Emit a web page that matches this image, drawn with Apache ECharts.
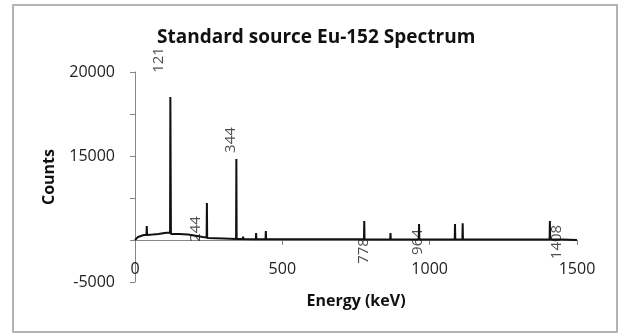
<!DOCTYPE html>
<html>
<head>
<meta charset="utf-8">
<script src="https://cdn.jsdelivr.net/npm/echarts@6/dist/echarts.min.js"></script>
<style>
html,body{margin:0;padding:0;background:#fff;}
#wrap{position:relative;width:619px;height:334px;}
#chart{width:619px;height:334px;}
#frame{position:absolute;left:12px;top:4px;width:602px;height:325px;border:2px solid #b4b4b4;pointer-events:none;}
</style>
</head>
<body>
<div id="wrap"><div id="chart"></div><div id="frame"></div></div>
<script>
// Spectrum (energy keV, counts)
var energies = [0, 10, 20, 30, 39, 40, 41, 45, 60, 80, 100, 119, 120, 121, 122, 123, 150, 180, 200, 230, 243, 244, 245, 250, 300, 343, 344, 345, 366, 367, 368, 400, 410, 411, 412, 443, 444, 445, 500, 562, 563, 564, 585, 586, 587, 650, 687, 688, 689, 750, 777, 778, 779, 800, 866, 867, 868, 900, 963, 964, 965, 1000, 1050, 1085, 1086, 1087, 1111, 1112, 1113, 1150, 1214, 1215, 1216, 1250, 1298, 1299, 1300, 1350, 1407, 1408, 1409, 1450, 1500];
var counts   = [0, 360, 480, 600, 600, 1670, 600, 480, 650, 710, 830, 890, 17020, 17020, 710, 710, 710, 650, 540, 360, 300, 4400, 240, 240, 180, 120, 9640, 120, 110, 400, 110, 100, 100, 830, 100, 100, 1070, 100, 90, 90, 260, 90, 90, 260, 90, 80, 80, 250, 80, 80, 80, 2260, 80, 70, 70, 830, 70, 70, 70, 1900, 70, 60, 60, 60, 1900, 60, 60, 2000, 60, 50, 50, 240, 50, 50, 50, 240, 50, 50, 50, 2260, 50, 50, 0];

// Peak labels
var peakLabelText = ['121', '244', '344', '778', '964', '1408'];
var peakLabelEnergy = [81, 207, 326, 777, 960, 1432];
var peakLabelCounts = [21430, 1310, 11900, -1310, -240, -240];

// Axis ticks
var xTickValues = [0, 500, 1000, 1500];
var xTickLabels = ['0', '500', '1000', '1500'];
var yTickValues = [-5000, 0, 5000, 10000, 15000, 20000];
var yTickLabels = ['-5000', '', '', '15000', '', '20000'];

var spectrum = energies.map(function (e, i) { return [e, counts[i]]; });
var labelPts = peakLabelEnergy.map(function (e, i) { return { value: [e, peakLabelCounts[i]], name: peakLabelText[i] }; });

var font = '"Open Sans", "Liberation Sans", sans-serif';
var chart = echarts.init(document.getElementById('chart'), null, { renderer: 'canvas' });
chart.setOption({
  animation: false,
  backgroundColor: '#fff',
  title: {
    text: 'Standard source Eu-152 Spectrum',
    left: 152, top: 23,
    textStyle: { fontFamily: font, fontSize: 19, fontWeight: 'bold', color: '#111' }
  },
  grid: { left: 135, right: 42, top: 72, bottom: 52, outerBoundsMode: 'none', containLabel: false },
  xAxis: {
    type: 'value', min: 0, max: 1500, interval: 500,
    name: 'Energy (keV)', nameLocation: 'middle', nameGap: 11, nameMoveOverlap: false,
    nameTextStyle: { fontFamily: font, fontSize: 16, fontWeight: 'bold', color: '#111', verticalAlign: 'top' },
    axisLine: { onZero: true, lineStyle: { color: '#888', width: 1 } },
    axisTick: { show: true, length: 5, lineStyle: { color: '#888' } },
    splitLine: { show: false },
    axisLabel: {
      margin: -21, fontFamily: font, fontSize: 16, color: '#222',
      formatter: function (v) { var i = xTickValues.indexOf(v); return i >= 0 ? xTickLabels[i] : ''; }
    }
  },
  yAxis: {
    type: 'value', min: -5000, max: 20000, interval: 5000,
    name: 'Counts', nameLocation: 'middle', nameGap: 78, nameRotate: 90,
    nameTextStyle: { fontFamily: font, fontSize: 16, fontWeight: 'bold', color: '#111' },
    axisLine: { show: true, onZero: false, lineStyle: { color: '#888', width: 1 } },
    axisTick: { show: true, length: 5, lineStyle: { color: '#888' } },
    splitLine: { show: false },
    axisLabel: {
      margin: 20, fontFamily: font, fontSize: 16, color: '#222',
      formatter: function (v) { var i = yTickValues.indexOf(v); return i >= 0 ? yTickLabels[i] : ''; }
    }
  },
  series: [
    {
      type: 'line', data: spectrum, symbol: 'none', clip: false,
      lineStyle: { color: '#111', width: 2 }
    },
    {
      type: 'scatter', data: labelPts, symbolSize: 0, clip: false,
      label: {
        show: true, position: 'inside', rotate: 90,
        formatter: function (p) { return p.name; },
        fontFamily: font, fontSize: 15, color: '#222'
      }
    }
  ]
});
</script>
</body>
</html>
